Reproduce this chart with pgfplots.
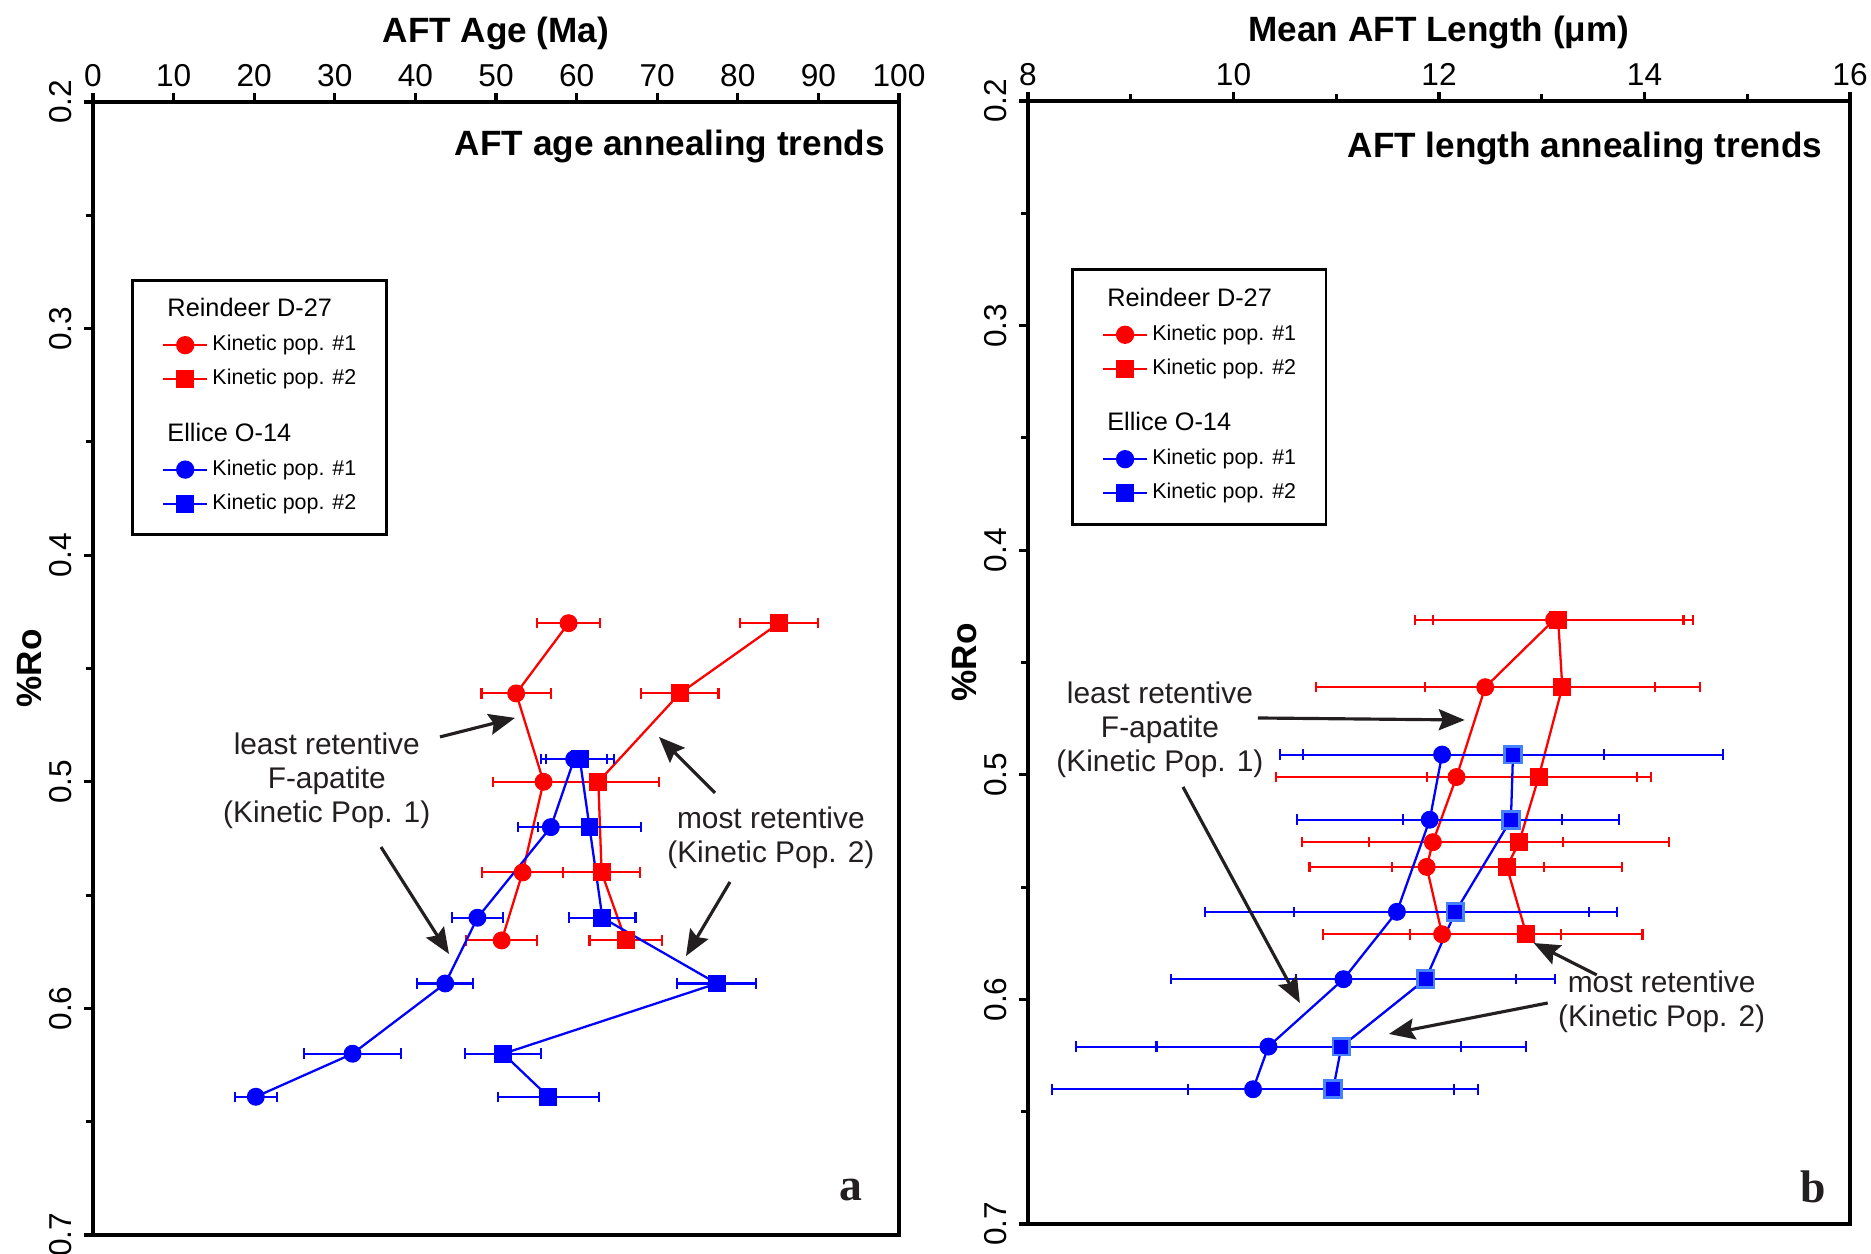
\documentclass[border=0pt]{standalone}
\usepackage{fontspec}
\setmainfont{Liberation Sans}
\newfontfamily\timesfont{Liberation Serif}
\usepackage{pgfplots}
\pgfplotsset{compat=1.18}
\usetikzlibrary{arrows.meta}
\definecolor{annot}{RGB}{35,31,32}
\definecolor{edgeblue}{RGB}{70,130,255}

\pgfplotsset{
  panel/.style={
    scale only axis,
    y dir=reverse,
    ymin=0.2, ymax=0.7,
    ytick={0.2,0.3,0.4,0.5,0.6,0.7},
    minor ytick={0.25,0.35,0.45,0.55,0.65},
    xtick pos=right, xticklabel pos=right,
    ytick pos=left, yticklabel pos=left,
    tick align=outside,
    major tick length=0.09cm, minor tick length=0.07cm,
    tick style={black, line width=0.9pt},
    axis line style={line width=1.1pt},
    ticklabel style={font=\fontsize{9}{10}\selectfont},
    /pgf/number format/assume math mode=true,
    x tick label style={yshift=-0.06cm},
    y tick label style={rotate=90, anchor=south},
    yticklabel style={/pgf/number format/fixed, /pgf/number format/fixed zerofill, /pgf/number format/precision=1},
    xlabel style={font=\bfseries\fontsize{10}{12}\selectfont},
    ylabel style={font=\bfseries\fontsize{10}{12}\selectfont},
    xlabel shift=-0.095cm,
    ylabel shift=-0.17cm,
    ylabel={\%Ro},
    legend cell align=left,
    legend image code/.code={\draw[mark repeat=2,mark phase=2] plot coordinates {(0cm,0cm) (0.22cm,0cm) (0.44cm,0cm)};},
    legend style={draw=black, line width=0.8pt, fill=white, inner xsep=8.5pt, inner ysep=5.8pt,
      row sep=3.7pt, column sep=1.2pt,
      nodes={inner sep=0pt, text height=4.6pt, text depth=1.4pt, font=\fontsize{6.1}{7}\selectfont}},
  },
  ser/.style n args={2}{#1, line width=0.65pt, mark=#2, mark size=2.4pt,
    mark options={solid, fill=#1, line width=0.3pt}, forget plot,
    error bars/x dir=both, error bars/x explicit,
    error bars/error mark=|,
    error bars/error bar style={line width=0.6pt, #1},
    error bars/error mark options={line width=0.6pt, mark size=1.5pt, #1}},
}
\tikzset{
  note/.style={font=\fontsize{8.5}{9.7}\selectfont, text=annot, align=center},
  arr/.style={draw=annot, line width=0.9pt, -{Stealth[length=0.26cm, width=0.21cm, inset=0.04cm]}},
  head/.style={font=\fontsize{7.2}{8}\selectfont},
  ptitle/.style={anchor=east, inner sep=0pt, font=\bfseries\fontsize{10}{12}\selectfont},
}

\begin{document}
\begin{tikzpicture}
\path[use as bounding box] (0,0) rectangle (18.71,12.54);

% ---------- (a) AFT age ----------
\begin{axis}[panel, at={(0.93cm,0.19cm)}, anchor=south west,
  width=8.06cm, height=11.33cm,
  xmin=0, xmax=100, xtick={0,10,...,100},
  xlabel={AFT Age (Ma)},
  legend style={at={(0.047,0.844)}, anchor=north west}]

% Reindeer D-27, kinetic pop. 1
\addplot[ser={red}{*}] table[x=x, y=y, x error=ex] {
x    y     ex
59.0 0.430 3.9
52.5 0.461 4.3
55.9 0.500 6.3
53.3 0.540 5.0
50.7 0.570 4.4
};
% Reindeer D-27, kinetic pop. 2
\addplot[ser={red}{square*}] table[x=x, y=y, x error=ex] {
x    y     ex
85.1 0.430 4.8
72.8 0.461 4.8
62.7 0.500 7.5
63.1 0.540 4.8
66.1 0.570 4.5
};
% Ellice O-14, kinetic pop. 1
\addplot[ser={blue}{*}] table[x=x, y=y, x error=ex] {
x    y     ex
59.7 0.490 4.1
56.8 0.520 4.1
47.7 0.560 3.2
43.7 0.589 3.5
32.2 0.620 6.0
20.2 0.639 2.6
};
% Ellice O-14, kinetic pop. 2
\addplot[ser={blue}{square*}] table[x=x, y=y, x error=ex] {
x    y     ex
60.4 0.490 4.2
61.6 0.520 6.4
63.2 0.560 4.1
77.4 0.589 4.9
50.9 0.620 4.7
56.5 0.639 6.3
};

\addlegendimage{empty legend}
\addlegendentry[head]{\hspace*{-0.45cm}Reindeer D-27}
\addlegendimage{red, line width=0.6pt, mark=*, mark size=2.3pt, mark options={solid, fill=red}}
\addlegendentry{Kinetic pop. \#1}
\addlegendimage{red, line width=0.6pt, mark=square*, mark size=2.3pt, mark options={solid, fill=red}}
\addlegendentry{Kinetic pop. \#2}
\addlegendimage{empty legend}
\addlegendentry[head, text height=10.9pt]{\hspace*{-0.45cm}Ellice O-14}
\addlegendimage{blue, line width=0.6pt, mark=*, mark size=2.3pt, mark options={solid, fill=blue}}
\addlegendentry{Kinetic pop. \#1}
\addlegendimage{blue, line width=0.6pt, mark=square*, mark size=2.3pt, mark options={solid, fill=blue}}
\addlegendentry{Kinetic pop. \#2}

\node[ptitle] at (axis description cs:0.983,0.961) {AFT age annealing trends};

\node[note] at (axis cs:29.0,0.4996) {least retentive\\F-apatite\\(Kinetic Pop. 1)};
\node[note] at (axis cs:84.1,0.5246) {most retentive\\(Kinetic Pop. 2)};
\draw[arr] (axis cs:43.05,0.4802) -- (axis cs:52.36,0.4718);
\draw[arr] (axis cs:35.73,0.5288) -- (axis cs:44.17,0.5760);
\draw[arr] (axis cs:77.17,0.5049) -- (axis cs:70.22,0.4802);
\draw[arr] (axis cs:79.03,0.5442) -- (axis cs:73.57,0.5769);

\node[font=\timesfont\bfseries\fontsize{13}{14}\selectfont, text=annot] at (axis cs:94.0,0.680) {a};
\end{axis}

% ---------- (b) AFT length ----------
\begin{axis}[panel, at={(10.28cm,0.30cm)}, anchor=south west,
  width=8.22cm, height=11.23cm,
  xmin=8, xmax=16, xtick={8,10,...,16}, minor x tick num=1,
  xlabel={Mean AFT Length (μm)},
  legend style={at={(0.052,0.851)}, anchor=north west}]

% Reindeer D-27, kinetic pop. 1
\addplot[ser={red}{*}] table[x=x, y=y, x error=ex] {
x     y     ex
13.12 0.431 1.35
12.45 0.461 1.65
12.17 0.501 1.76
11.94 0.530 1.27
11.88 0.541 1.14
12.03 0.571 1.16
};
% Reindeer D-27, kinetic pop. 2
\addplot[ser={red}{square*}] table[x=x, y=y, x error=ex] {
x     y     ex
13.16 0.431 1.22
13.20 0.461 1.34
12.97 0.501 1.09
12.78 0.530 1.46
12.66 0.541 1.12
12.85 0.571 1.13
};
% Ellice O-14, kinetic pop. 1
\addplot[ser={blue}{*}] table[x=x, y=y, x error=ex] {
x     y     ex
12.03 0.491 1.58
11.91 0.520 1.29
11.59 0.561 1.87
11.07 0.591 1.68
10.34 0.621 1.87
10.19 0.640 1.96
};
% Ellice O-14, kinetic pop. 2
\addplot[ser={blue}{square*}, mark options={solid, fill=blue, draw=edgeblue, line width=0.8pt}] table[x=x, y=y, x error=ex] {
x     y     ex
12.72 0.491 2.04
12.70 0.520 1.05
12.16 0.561 1.57
11.87 0.591 1.26
11.05 0.621 1.80
10.97 0.640 1.41
};

\addlegendimage{empty legend}
\addlegendentry[head]{\hspace*{-0.45cm}Reindeer D-27}
\addlegendimage{red, line width=0.6pt, mark=*, mark size=2.3pt, mark options={solid, fill=red}}
\addlegendentry{Kinetic pop. \#1}
\addlegendimage{red, line width=0.6pt, mark=square*, mark size=2.3pt, mark options={solid, fill=red}}
\addlegendentry{Kinetic pop. \#2}
\addlegendimage{empty legend}
\addlegendentry[head, text height=10.9pt]{\hspace*{-0.45cm}Ellice O-14}
\addlegendimage{blue, line width=0.6pt, mark=*, mark size=2.3pt, mark options={solid, fill=blue}}
\addlegendentry{Kinetic pop. \#1}
\addlegendimage{blue, line width=0.6pt, mark=square*, mark size=2.3pt, mark options={solid, fill=blue}}
\addlegendentry{Kinetic pop. \#2}

\node[ptitle] at (axis description cs:0.967,0.958) {AFT length annealing trends};

\node[note] at (axis cs:9.284,0.4801) {least retentive\\F-apatite\\(Kinetic Pop. 1)};
\node[note] at (axis cs:14.167,0.6012) {most retentive\\(Kinetic Pop. 2)};
\draw[arr] (axis cs:10.237,0.4747) -- (axis cs:12.251,0.4756);
\draw[arr] (axis cs:9.508,0.5054) -- (axis cs:10.646,0.6016);
\draw[arr] (axis cs:13.535,0.5891) -- (axis cs:12.922,0.5749);
\draw[arr] (axis cs:13.058,0.6016) -- (axis cs:11.512,0.6154);

\node[font=\timesfont\bfseries\fontsize{13}{14}\selectfont, text=annot] at (axis cs:15.64,0.6835) {b};
\end{axis}
\end{tikzpicture}
\end{document}
